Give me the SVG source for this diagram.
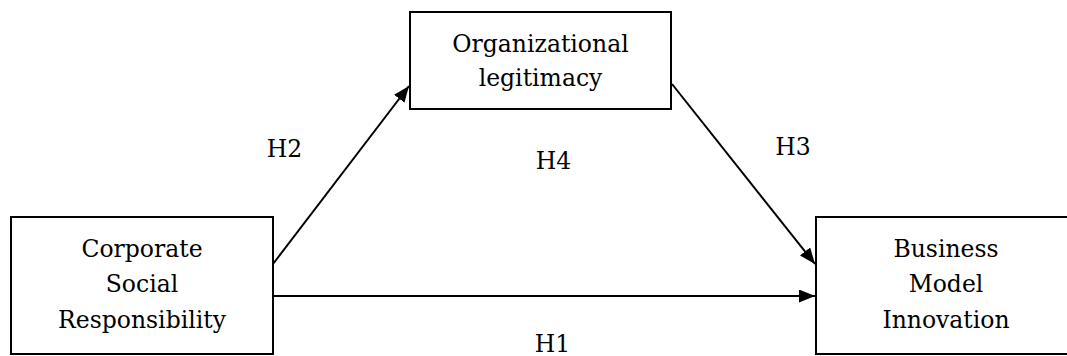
<svg xmlns="http://www.w3.org/2000/svg" width="1067" height="356" viewBox="0 0 1067 356" font-family="DejaVu Serif, serif">
<style>
.box{fill:#fff;stroke:#000;stroke-width:2}
.t{font-size:23.5px;fill:#000;text-anchor:middle}
.c{stroke:#000;stroke-width:2;fill:none;marker-end:url(#ah)}
</style>
<defs>
<marker id="ah" viewBox="0 0 16 13" refX="16" refY="6.5" markerWidth="16" markerHeight="13" markerUnits="userSpaceOnUse" orient="auto">
<path d="M0,0 L16,6.5 L0,13 Z" fill="#000"/>
</marker>
</defs>
<g id="connectors">
<line class="c" x1="273" y1="264" x2="409" y2="86"/>
<line class="c" x1="672" y1="84" x2="815" y2="264"/>
<line class="c" x1="273" y1="296" x2="815" y2="296"/>
<text class="t" x="284.5" y="157">H2</text>
<text class="t" x="553.5" y="169">H4</text>
<text class="t" x="793" y="155">H3</text>
<text class="t" x="552.5" y="352">H1</text>
</g>
<g id="org">
<rect class="box" x="410" y="12" width="261" height="97"/>
<text class="t" x="540.5" y="52">Organizational</text>
<text class="t" x="540.5" y="86">legitimacy</text>
</g>
<g id="csr">
<rect class="box" x="11" y="217" width="262" height="137"/>
<text class="t" x="142" y="257">Corporate</text>
<text class="t" x="142" y="292">Social</text>
<text class="t" x="142" y="328">Responsibility</text>
</g>
<g id="bmi">
<rect class="box" x="816" y="217" width="260" height="137"/>
<text class="t" x="946" y="257">Business</text>
<text class="t" x="946" y="292">Model</text>
<text class="t" x="946" y="328">Innovation</text>
</g>
</svg>
